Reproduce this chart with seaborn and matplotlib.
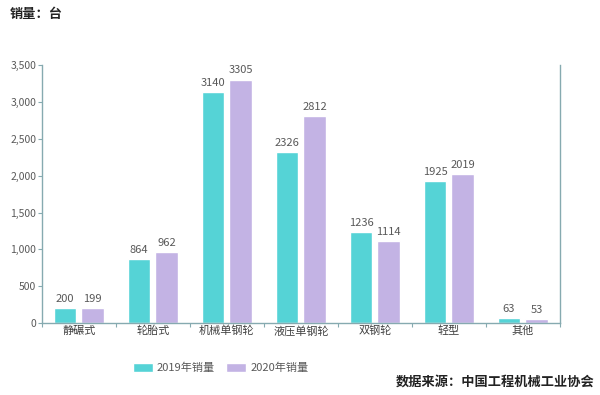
import pandas as pd
import seaborn as sns
import matplotlib.pyplot as plt
from matplotlib.ticker import FuncFormatter, FixedLocator

categories = ['静碾式', '轮胎式', '机械单钢轮', '液压单钢轮', '双钢轮', '轻型', '其他']
sales_2019 = [200, 864, 3140, 2326, 1236, 1925, 63]
sales_2020 = [199, 962, 3305, 2812, 1114, 2019, 53]
series = ['2019年销量', '2020年销量']
colors = ['#55d3d6', '#c3b3e4']

df = pd.DataFrame({
  'cat': categories * 2,
  'year': [series[0]] * len(categories) + [series[1]] * len(categories),
  'value': sales_2019 + sales_2020,
})

sns.set_style('white')
plt.rcParams['font.family'] = ['Noto Sans CJK SC', 'DejaVu Sans']

fig = plt.figure(figsize=(6, 3.95), dpi=100)
ax = fig.add_axes([0.07, 0.182, 0.863, 0.653])

sns.barplot(data=df, x='cat', y='value', hue='year', palette=colors,
            gap=0.18, width=0.75, ax=ax, saturation=1)

for cont in ax.containers:
  ax.bar_label(cont, padding=3, fontsize=8, color='#595959')

axis_color = '#86aab0'
ax.set_ylim(0, 3500)
ax.set_xlim(-0.5, 6.5)
ax.set_yticks(range(0, 3501, 500))
ax.yaxis.set_major_formatter(FuncFormatter(lambda v, p: f'{int(v):,}'))
ax.tick_params(axis='y', length=3, width=0.8, color=axis_color, labelsize=7.5,
               labelcolor='#595959', pad=1, left=True)
ax.tick_params(axis='x', length=0, labelsize=8, labelcolor='#404040', pad=2)
ax.xaxis.set_minor_locator(FixedLocator([i - 0.5 for i in range(8)]))
ax.tick_params(axis='x', which='minor', length=3, width=0.8, color=axis_color,
               bottom=True)
for side in ['left', 'bottom', 'right']:
  ax.spines[side].set_color(axis_color)
  ax.spines[side].set_linewidth(1.0)
ax.spines['top'].set_visible(False)
ax.set_xlabel('')
ax.set_ylabel('')

ax.legend(loc='center', bbox_to_anchor=(0.345, -0.175), ncol=2, frameon=False,
          fontsize=8, handlelength=1.8, handleheight=0.9, columnspacing=1.0,
          handletextpad=0.4, labelcolor='#595959')

fig.text(0.017, 0.965, '销量：台', fontsize=9.5, fontweight='bold',
         va='center', ha='left', color='#222222')
fig.text(0.99, 0.035, '数据来源：中国工程机械工业协会', fontsize=9.5,
         fontweight='bold', va='center', ha='right', color='#222222')

plt.savefig('out.png', dpi=100)
plt.close()
